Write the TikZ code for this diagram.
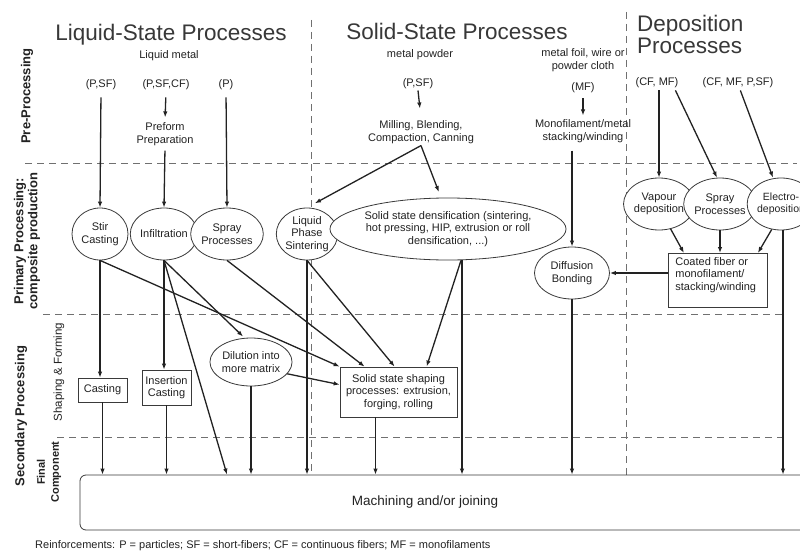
\documentclass[tikz,border=0pt]{standalone}
\usepackage{fontspec}
\setmainfont{Liberation Sans}
\usetikzlibrary{arrows.meta,shapes.geometric,calc}
\definecolor{ink}{HTML}{222222}
\definecolor{edge}{HTML}{3A3A3A}
\definecolor{dashc}{HTML}{707070}
\begin{document}
\begin{tikzpicture}[x=1pt,y=-1pt,
  txt/.style={font=\fontsize{11}{12.5}\selectfont, text=ink, align=center, inner sep=2pt},
  ttl/.style={font=\fontsize{22.5}{21.5}\selectfont, text=ink!90, inner sep=0pt},
  ell/.style={draw=edge, line width=0.8pt, ellipse, fill=white, inner sep=0pt, align=center, text=ink, font=\fontsize{11}{12.5}\selectfont},
  bx/.style={draw=edge, line width=0.8pt, rectangle, fill=white, inner sep=0pt, align=center, text=ink, font=\fontsize{11}{12.5}\selectfont},
  arr/.style={draw=ink, line width=1.3pt, -{Latex[length=6pt,width=4.5pt]}},
  dline/.style={draw=dashc, line width=1pt, dash pattern=on 7pt off 5pt},
  side/.style={font=\bfseries\fontsize{13}{14}\selectfont, text=ink, rotate=90, align=center, inner sep=0pt},
  sidesm/.style={font=\fontsize{11.5}{13}\selectfont, text=ink, rotate=90, align=center, inner sep=0pt},
  sidefc/.style={font=\bfseries\fontsize{11}{14}\selectfont, text=ink, rotate=90, align=center, inner sep=0pt}]
\clip (0,0) rectangle (800,551);
\fill[white] (0,0) rectangle (800,551);

% region dividers
\draw[dline] (25,163) -- (797,163);
\draw[dline] (43,314) -- (785,314);
\draw[dline] (57,437) -- (785,437);
\draw[dline] (311,20) -- (311,475);
\draw[dline] (626,12) -- (626,475);

% side labels
\node[side] (lpre) at (27,96) {Pre-Processing};
\node[side] (lprim) at (27,241) {Primary Processing:\\composite production};
\node[side] (lsec) at (21,416) {Secondary Processing};
\node[sidesm] (lshape) at (59,372) {Shaping \& Forming};
\node[sidefc] (lfin) at (49,472) {Final\\Component};

% titles
\node[ttl, anchor=base] (tliq) at (171,41) {Liquid-State Processes};
\node[ttl, anchor=base] (tsol) at (457,40) {Solid-State Processes};
\node[ttl, anchor=north west, align=left] (tdep) at (637,15) {Deposition\\Processes};

% pre-processing texts
\node[txt, anchor=base] (lm) at (169,59) {Liquid metal};
\node[txt, anchor=base] (pl1) at (101,87) {(P,SF)};
\node[txt, anchor=base] (pl2) at (166,87) {(P,SF,CF)};
\node[txt, anchor=base] (pl3) at (226,87) {(P)};
\node[txt] (pre) at (165,134) {Preform\\Preparation};
\node[txt, anchor=base] (mp) at (420,57) {metal powder};
\node[txt, anchor=base] (ps) at (418,86) {(P,SF)};
\node[txt] (mill) at (421,132) {Milling, Blending,\\Compaction, Canning};
\node[txt] (foil) at (583,60) {metal foil, wire or\\powder cloth};
\node[txt, anchor=base] (mf) at (583,90) {(MF)};
\node[txt] (mono) at (583,131) {Monofilament/metal\\stacking/winding};
\node[txt, anchor=base] (cfmf) at (657,85) {(CF, MF)};
\node[txt, anchor=base] (cfall) at (738,85) {(CF, MF, P,SF)};

% primary processing
\node[ell, minimum width=56, minimum height=52] (stir) at (100,234) {Stir\\Casting};
\node[ell, minimum width=58, minimum height=52] (infl) at (164,234) {Infiltration};
\node[ell, minimum width=57, minimum height=52] (spl) at (227,234) {Spray\\Processes};
\node[ell, minimum width=57, minimum height=52] (lps) at (307,234) {Liquid\\Phase\\Sintering};
\node[ell, minimum width=200, minimum height=62] (ssd) at (448,229) {Solid state densification (sintering,\\hot pressing, HIP, extrusion or roll\\densification, ...)};
\node[ell, minimum width=75, minimum height=52] (diff) at (572,273) {Diffusion\\Bonding};
\node[ell, minimum width=58, minimum height=52] (vap) at (659,204) {Vapour\\deposition};
\node[ell, minimum width=56, minimum height=52] (spd) at (720,204) {Spray\\Processes};
\node[ell, minimum width=60, minimum height=52, font=\fontsize{10.5}{12.5}\selectfont] (ele) at (781,204) {Electro-\\deposition};
\node[bx, minimum width=99, minimum height=54, anchor=north west, inner xsep=7pt, inner ysep=4pt] (coat) at (668,253)
  {\parbox[c][46pt][t]{85pt}{\raggedright Coated fiber or\\monofilament/\\stacking/winding}};

% secondary processing
\node[bx, minimum width=49, minimum height=24] (cast) at (102.5,390) {Casting};
\node[bx, minimum width=49, minimum height=35] (ins) at (166.5,387.5) {Insertion\\Casting};
\node[ell, minimum width=81, minimum height=48] (dil) at (251,362) {Dilution into\\more matrix};
\node[bx, minimum width=117, minimum height=50] (sss) at (398.5,392) {Solid state shaping\\processes: extrusion,\\forging, rolling};

% final component
\node[bx, rounded corners=6pt, minimum width=745, minimum height=55] (mach) at (452.5,502.5) {};
\node[txt, font=\fontsize{13.5}{15}\selectfont] (machtxt) at (425,502) {Machining and/or joining};

% footnote
\node[txt, anchor=base west, inner sep=0pt] (foot) at (35,548) {Reinforcements: P = particles; SF = short-fibers; CF = continuous fibers; MF = monofilaments};

% connectors: pre-processing -> primary
\draw[arr, shorten <=6pt] (pl1.south) -- (stir.north);
\draw[arr, shorten <=6pt, shorten >=3pt] (pl2.south) -- (pre.north);
\draw[arr, shorten <=3pt] (pre.south) -- (infl.north);
\draw[arr, shorten <=6pt] (pl3.south) -- (spl.north);
\draw[arr, shorten >=10pt] (ps.south) -- (mill.north);
\draw[arr, shorten >=9pt] (mill.south) -- (lps.north);
\draw[arr, shorten >=6pt] (mill.south) -- ([xshift=-7pt]ssd.north);
\draw[arr, shorten <=4pt, shorten >=2pt] (mf.south) -- (mono.north);
\draw[arr, shorten <=6pt] (mono.south -| diff.north) -- (diff.north);
\draw[arr, shorten <=1pt] (cfmf.south -| vap.north) -- (vap.north);
\draw[arr, shorten <=1pt] ([xshift=18pt]cfmf.south) -- ([xshift=-3pt]spd.north);
\draw[arr, shorten <=1pt] ([xshift=2pt]cfall.south) -- ([xshift=-8pt]ele.north);

% deposition
\draw[arr] (vap.-65) -- ([xshift=-34pt]coat.north);
\draw[arr] (spd.south) -- (spd.south |- coat.north);
\draw[arr] (ele.250) -- ([xshift=40pt]coat.north);
\draw[arr] (coat.west |- diff.east) -- (diff.east);
\draw[arr] ([xshift=2pt]ele.south) -- ([xshift=2pt]ele.south |- mach.north);

% primary -> secondary
\draw[arr] (stir.south) -- (stir.south |- cast.north);
\draw[arr] (infl.south) -- (infl.south |- ins.north);
\draw[arr, shorten >=2pt] (infl.south) -- (dil.105);
\draw[arr] (infl.south) -- (spl.south |- mach.north);
\draw[arr] (stir.south) -- (sss.north west);
\draw[arr] (spl.south) -- ([xshift=25pt]sss.north west);
\draw[arr] (lps.south) -- ([xshift=55pt]sss.north west);
\draw[arr] ([xshift=13pt]ssd.south) -- ([xshift=87pt]sss.north west);
\draw[arr] (dil.-18) -- ([yshift=-18pt]sss.north west);

% -> final component
\draw[arr] (cast.south) -- (cast.south |- mach.north);
\draw[arr] (ins.south) -- (ins.south |- mach.north);
\draw[arr] (dil.south) -- (dil.south |- mach.north);
\draw[arr] (lps.south) -- (lps.south |- mach.north);
\draw[arr] ([xshift=-23pt]sss.south) -- ([xshift=-23pt]sss.south |- mach.north);
\draw[arr] ([xshift=14pt]ssd.south) -- ([xshift=14pt]ssd.south |- mach.north);
\draw[arr] (diff.south) -- (diff.south |- mach.north);
\end{tikzpicture}
\end{document}
